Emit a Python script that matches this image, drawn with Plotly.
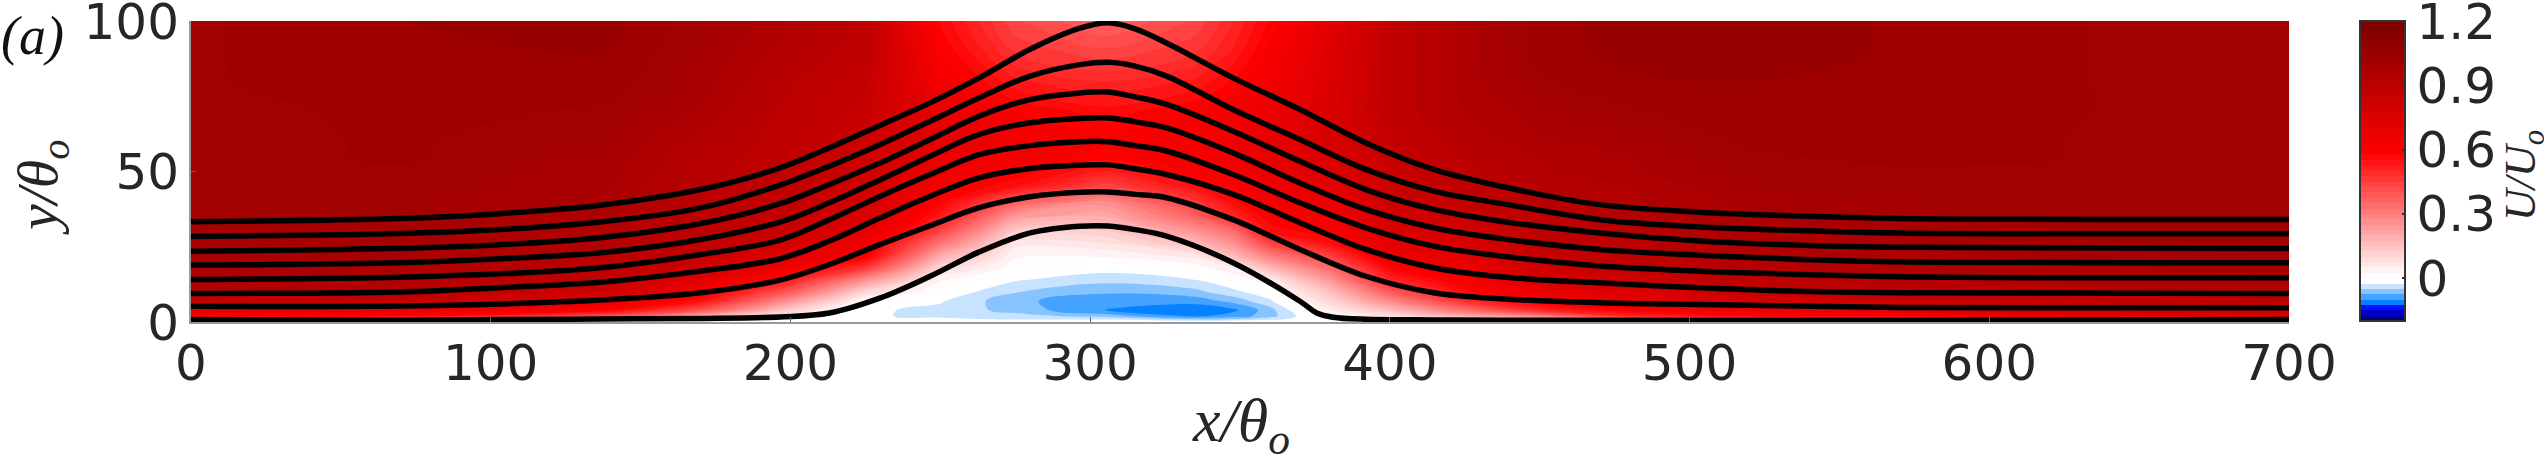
import plotly.graph_objects as go

# Field stations
y_stations = [0,1,2,4,7,10,14,18,22,26,30,35,40,45,50,55,60,70,80,90,100]
x_stations = [0,70,140,170,200,225,250,275,305,335,348,360,380,400,425,450,480,520,560,600,650,700]

# U/Uo read at each x station, bottom to top
U_000 = [0,0.35,0.62,0.72,0.87,0.925,0.96,0.975,0.985,0.99,1.0,1.0,1.01,1.01,1.01,1.01,1.01,1.01,1.02,1.02,1.02]
U_070 = [0,0.3,0.58,0.68,0.85,0.905,0.945,0.96,0.975,0.985,0.99,1.0,1.01,1.02,1.02,1.03,1.03,1.035,1.045,1.05,1.05]
U_140 = [0,0.15,0.4,0.58,0.68,0.8,0.86,0.88,0.905,0.925,0.935,0.95,0.97,0.975,0.985,0.99,1.0,1.02,1.035,1.05,1.06]
U_170 = [0,0.05,0.2,0.4,0.55,0.62,0.72,0.81,0.85,0.87,0.88,0.89,0.9,0.905,0.915,0.925,0.935,0.97,0.99,1.0,1.01]
U_200 = [0,0.02,0.05,0.12,0.25,0.38,0.52,0.63,0.72,0.78,0.83,0.85,0.86,0.87,0.87,0.87,0.88,0.89,0.905,0.935,0.95]
U_225 = [0,-0.01,-0.022,-0.02,0.01,0.1,0.26,0.46,0.6,0.64,0.71,0.75,0.78,0.8,0.81,0.81,0.82,0.84,0.86,0.88,0.89]
U_250 = [0,-0.02,-0.03,-0.032,-0.022,-0.005,0.03,0.1,0.2,0.32,0.43,0.53,0.59,0.62,0.66,0.68,0.69,0.68,0.64,0.6,0.57]
U_275 = [0,-0.03,-0.04,-0.06,-0.068,-0.048,-0.022,0.01,0.03,0.06,0.12,0.24,0.38,0.55,0.6,0.62,0.63,0.6,0.53,0.47,0.43]
U_305 = [0,-0.03,-0.062,-0.1,-0.095,-0.07,-0.042,-0.012,0.03,0.07,0.12,0.2,0.27,0.43,0.52,0.59,0.6,0.56,0.5,0.43,0.37]
U_335 = [0,-0.06,-0.105,-0.118,-0.09,-0.058,-0.025,0.01,0.06,0.16,0.25,0.36,0.46,0.55,0.6,0.62,0.62,0.6,0.53,0.47,0.43]
U_348 = [0,-0.05,-0.09,-0.105,-0.065,-0.032,0.0,0.05,0.17,0.26,0.34,0.5,0.57,0.6,0.62,0.64,0.65,0.63,0.58,0.53,0.5]
U_360 = [0,-0.035,-0.06,-0.06,-0.03,-0.005,0.05,0.17,0.3,0.43,0.55,0.6,0.63,0.66,0.68,0.69,0.69,0.67,0.64,0.61,0.58]
U_380 = [0,0.0,0.02,0.05,0.1,0.15,0.25,0.35,0.45,0.55,0.6,0.63,0.67,0.7,0.73,0.75,0.76,0.76,0.75,0.74,0.73]
U_400 = [0,0.03,0.08,0.16,0.28,0.38,0.5,0.58,0.65,0.71,0.75,0.79,0.81,0.82,0.83,0.84,0.85,0.87,0.87,0.87,0.87]
U_425 = [0,0.1,0.2,0.34,0.48,0.56,0.62,0.67,0.72,0.76,0.79,0.83,0.86,0.88,0.89,0.905,0.925,0.95,0.96,0.96,0.96]
U_450 = [0,0.15,0.3,0.5,0.6,0.67,0.76,0.81,0.84,0.87,0.88,0.89,0.905,0.925,0.945,0.95,0.97,0.99,1.02,1.035,1.035]
U_480 = [0,0.25,0.5,0.6,0.7,0.75,0.81,0.87,0.88,0.89,0.905,0.925,0.945,0.95,0.97,0.975,0.99,1.02,1.045,1.06,1.07]
U_520 = [0,0.3,0.58,0.66,0.78,0.84,0.89,0.915,0.935,0.95,0.96,0.975,0.985,1.0,1.01,1.02,1.03,1.045,1.05,1.06,1.06]
U_560 = [0,0.33,0.6,0.7,0.82,0.88,0.915,0.945,0.96,0.97,0.975,0.99,1.0,1.01,1.02,1.03,1.035,1.045,1.05,1.05,1.05]
U_600 = [0,0.35,0.68,0.76,0.85,0.89,0.935,0.96,0.975,0.985,0.99,1.0,1.01,1.02,1.02,1.03,1.03,1.035,1.035,1.035,1.035]
U_650 = [0,0.38,0.74,0.8,0.87,0.915,0.95,0.975,0.99,1.0,1.01,1.01,1.02,1.02,1.02,1.02,1.02,1.02,1.02,1.02,1.02]
U_700 = [0,0.4,0.78,0.83,0.89,0.935,0.97,0.985,0.99,1.0,1.01,1.01,1.01,1.01,1.01,1.01,1.01,1.01,1.01,1.01,1.01]
U_columns = [U_000,U_070,U_140,U_170,U_200,U_225,U_250,U_275,U_305,U_335,U_348,U_360,
             U_380,U_400,U_425,U_450,U_480,U_520,U_560,U_600,U_650,U_700]

# Streamlines
x_line = [0,69.7,103,136.5,170,196.5,213,230,246.6,263,280,296.6,306,315,325.5,347.7,370,392,414.6,437,470,503.5,537,570,700]
line_1 = [33.3,34.4,36.0,38.8,44.0,51.2,57.9,65.4,72.8,81.1,90.6,97.6,99.4,97.4,92.7,81.1,70.6,59.5,50.7,45.1,39,36.5,35.2,34.4,34.05]
line_2 = [28.4,29.4,30.7,33.2,37.9,45.5,51.8,59,66.7,74.5,81.7,85.5,86.3,85,81.7,70.6,60.6,50.7,43.5,39.4,34,31.6,30.4,29.6,29.3]
line_3 = [23.5,24.5,25.7,28.0,32.7,39.3,45.7,52.9,60.6,68.4,73.9,76.1,76.4,74.8,72.3,63.4,53.4,44,37.4,33.5,29.6,26.9,25.5,24.8,24.4]
line_4 = [18.9,19.7,21.0,23.0,27.4,33.2,39.6,47.3,55.1,62.3,66.2,67.6,67.8,66.5,64.5,56.2,46.2,37.4,31.3,27.7,24.1,22.2,20.8,20,19.7]
line_5 = [14.1,14.9,16.0,18.0,22.4,27.2,34,41.8,49,55.6,58.6,59.9,59.9,58.6,56.8,49,39.6,31.3,25.2,21.9,18.6,16.9,15.8,15,14.7]
line_6 = [9.5,10,11.4,13.2,16.9,21,26.9,34.6,41.8,47.9,51,52.1,52.2,50.9,49,42.4,33,24.1,18,15,13,11.4,10.2,9.7,9.5]
line_7 = [5.2,5.3,6,7.3,9.7,13.9,19.1,25.8,32,38,41.6,43.1,43.2,42.4,41.3,34,24.1,15.2,9.7,7.7,6.4,5.8,5.3,4.8,4.7]
x_line_8 = [0,70,103,136.5,170,196.5,213,230,246.6,263,280,296.6,306,315,325.5,347.7,370,375.6,381,392,414.6,437,570,700]
line_8 = [0.8,0.6,0.8,1,1.2,1.7,3,8,15.2,23.3,29.6,31.8,31.9,30.7,28.5,19.7,6.9,3,1.6,0.9,0.7,0.6,0.6,0.8]

x_ticks = [0,100,200,300,400,500,600,700]
y_ticks = [0,50,100]
cbar_ticks = [0,0.3,0.6,0.9,1.2]
cbar_labels = ["0","0.3","0.6","0.9","1.2"]

zmin, zmax = -0.2, 1.2
def pos(v):
    return (v - zmin) / (zmax - zmin)
colorscale = [
    [pos(-0.2), "rgb(0,0,110)"],
    [pos(-0.14), "rgb(0,0,255)"],
    [pos(-0.1125), "rgb(0,128,255)"],
    [pos(-0.0125), "rgb(255,255,255)"],
    [pos(0.0125), "rgb(255,255,255)"],
    [pos(0.6), "rgb(255,0,0)"],
    [pos(1.2), "rgb(128,0,0)"],
]

TICK = "#262626"
fig = go.Figure()
z = [list(r) for r in zip(*U_columns)]
fig.add_trace(go.Contour(
    x=x_stations, y=y_stations, z=z, zmin=zmin, zmax=zmax, colorscale=colorscale,
    contours=dict(start=-0.2, end=1.2, size=0.025, coloring="fill", showlines=False),
    line=dict(width=0, smoothing=1), hoverinfo="skip",
    colorbar=dict(
        thickness=45, thicknessmode="pixels", len=300, lenmode="pixels",
        xref="container", x=2360/2544, xanchor="left",
        yref="paper", y=1.0, yanchor="top", ypad=0, xpad=0,
        outlinecolor="#333333", outlinewidth=2, borderwidth=0,
        ticks="inside", ticklen=4, tickwidth=1.5, tickcolor="#333333",
        tickvals=cbar_ticks, ticktext=cbar_labels, ticklabeloverflow="allow",
        tickfont=dict(family="DejaVu Sans", size=50, color=TICK),
    ),
))
for xs, ys in [(x_line,line_1),(x_line,line_2),(x_line,line_3),(x_line,line_4),
               (x_line,line_5),(x_line,line_6),(x_line,line_7),(x_line_8,line_8)]:
    fig.add_trace(go.Scatter(x=xs, y=ys, mode="lines", showlegend=False, hoverinfo="skip",
                             line=dict(color="black", width=5.5, shape="spline", smoothing=1.0)))

serif = "Liberation Serif"
fig.update_layout(
    width=2544, height=460, autosize=False,
    margin=dict(l=191, r=255, t=21, b=138, pad=0, autoexpand=False),
    paper_bgcolor="white", plot_bgcolor="white", showlegend=False,
    xaxis=dict(range=[0,700], tickvals=x_ticks, ticks="inside", ticklen=5, tickwidth=1, tickcolor="#666",
               showline=True, linecolor="#999", linewidth=2, showgrid=False, zeroline=False, automargin=False,
               ticklabeloverflow="allow", ticklabelstandoff=-4,
               tickfont=dict(family="DejaVu Sans", size=50, color=TICK)),
    yaxis=dict(range=[0,100], tickvals=y_ticks, ticks="inside", ticklen=5, tickwidth=1, tickcolor="#666",
               showline=True, linecolor="#999", linewidth=2, showgrid=False, zeroline=False, automargin=False,
               ticklabeloverflow="allow",
               tickfont=dict(family="DejaVu Sans", size=50, color=TICK)),
    annotations=[
        dict(text="<i>x/θ<sub>o</sub></i>", xref="paper", yref="paper", x=(1241-191)/2098, y=-(424-322)/301,
             xanchor="center", yanchor="middle", showarrow=False, font=dict(family=serif, size=62, color=TICK)),
        dict(text="<i>y/θ<sub>o</sub></i>", xref="paper", yref="paper", x=-(191-41)/2098, y=(322-187)/301,
             xanchor="center", yanchor="middle", textangle=-90, showarrow=False, font=dict(family=serif, size=58, color=TICK)),
        dict(text="<i>U/U<sub>o</sub></i>", xref="paper", yref="paper", x=(2524-191)/2098, y=(322-176)/301,
             xanchor="center", yanchor="middle", textangle=-90, showarrow=False, font=dict(family=serif, size=44, color=TICK)),
        dict(text="<i>(a)</i>", xref="paper", yref="paper", x=-(191-32)/2098, y=(322-36)/301,
             xanchor="center", yanchor="middle", showarrow=False, font=dict(family=serif, size=54, color="#111")),
    ],
)
fig.write_html("out.html", post_script="document.body.style.margin='0';", config=dict(displayModeBar=False))
